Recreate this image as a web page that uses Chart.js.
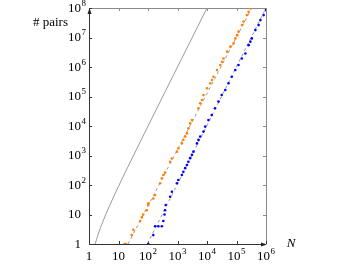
<!DOCTYPE html>
<html><head><meta charset="utf-8">
<script src="https://cdn.jsdelivr.net/npm/chart.js@4"></script>
<style>html,body{margin:0;padding:0;background:#fff}#wrap{width:355px;height:264px}</style>
</head><body><div id="wrap"><canvas id="c" width="355" height="264"></canvas></div>
<script>
const xTickValues = [1, 10, 100, 1e3, 1e4, 1e5, 1e6];
const xTickLabels = ['1', '10', '10^2', '10^3', '10^4', '10^5', '10^6'];
const yTickValues = [1, 10, 100, 1e3, 1e4, 1e5, 1e6, 1e7, 1e8];
const yTickLabels = ['1', '10', '10^2', '10^3', '10^4', '10^5', '10^6', '10^7', '10^8'];
const xTitle = 'N';
const yTitle = '# pairs';

// thin gray curve (all pairs)
const allN = [1.62, 2, 3, 5, 10, 20, 50, 100, 300, 1000, 3000, 10000];
const allPairs = [1, 2, 6, 20, 90, 380, 2450, 9900, 89700, 999000, 9e6, 1e8];

// orange series
const orangeN = [16, 18, 28, 32, 54, 62, 69, 91, 102, 104, 151, 174, 257, 295, 331, 380, 562, 646, 955, 1070,
  1410, 1585, 1820, 2090, 2340, 2690, 3090, 5130, 5890, 6760, 7590, 10000, 12900, 14800, 16600, 21900,
  28200, 32400, 36300, 47900, 61700, 79400, 91200, 105000, 117000, 155000, 174000, 224000, 257000, 295000];
const orangePairs = [1, 1, 2, 3, 6, 8, 10, 14, 21, 24, 35, 46, 115, 170, 219, 263, 617, 794, 1350, 1740,
  2570, 3390, 4365, 5620, 8320, 12300, 15850, 39800, 58900, 75900, 112000, 190500, 282000, 363000, 468000, 794000,
  1175000, 1514000, 1950000, 3310000, 4900000, 6310000, 9330000, 12000000, 15800000, 26300000, 34700000, 57500000, 74100000, 97700000];

// blue series
const blueN = [103, 151, 174, 224, 295, 331, 363, 380, 398, 562, 646, 955, 1070, 1410, 1585, 1820, 2090, 2340,
  2690, 3090, 3470, 4570, 5130, 5890, 7590, 8710, 11200, 14500, 18600, 24500, 31600, 41700, 53700, 69200,
  91200, 117000, 151000, 200000, 257000, 295000, 331000, 437000, 562000, 646000, 832000, 1000000];
const bluePairs = [1, 2, 4, 4, 4, 6, 10, 14, 21, 40, 59, 115, 148, 219, 282, 372, 479, 617,
  813, 1050, 1350, 2570, 3390, 4365, 6460, 9550, 15850, 23400, 39800, 67600, 112000, 166000, 282000, 468000,
  794000, 1175000, 1950000, 2880000, 5500000, 7240000, 9330000, 17800000, 26300000, 38900000, 57500000, 85000000];

// dashed guide lines (endpoints)
const orangeFitN = [21, 330000];
const orangeFitPairs = [1, 1e8];
const blueFitN = [95, 1000000];
const blueFitPairs = [1, 1e8];

const pts = (xs, ys) => xs.map((x, i) => ({x: x, y: ys[i]}));
const FONT = '"Liberation Serif", "Times New Roman", serif';

function drawPow(ctx, text, x, y, align) {
  const parts = text.split('^');
  ctx.font = '13px ' + FONT;
  const wb = ctx.measureText(parts[0]).width;
  let we = 0;
  if (parts[1]) { ctx.font = '9px ' + FONT; we = ctx.measureText(parts[1]).width + 0.5; }
  let start;
  if (align === 'center') start = x - (wb + we) / 2;
  else start = x - wb;
  ctx.textAlign = 'left';
  ctx.textBaseline = 'middle';
  ctx.fillStyle = '#000';
  ctx.font = '13px ' + FONT;
  ctx.fillText(parts[0], start, y);
  if (parts[1]) {
    ctx.font = '9px ' + FONT;
    ctx.fillText(parts[1], start + wb + 0.5, y - 5);
  }
}

const framePlugin = {
  id: 'frame',
  beforeDatasetsDraw(chart) {
    const ctx = chart.ctx, xs = chart.scales.x, ys = chart.scales.y;
    const L = xs.getPixelForValue(1), R = xs.getPixelForValue(1e6);
    const B = ys.getPixelForValue(1), T = ys.getPixelForValue(1e8);
    ctx.save();
    ctx.lineWidth = 1;
    ctx.strokeStyle = '#8a8a8a';
    ctx.beginPath();
    ctx.moveTo(L, T + 0.5); ctx.lineTo(R, T + 0.5);
    ctx.moveTo(R + 0.5, T); ctx.lineTo(R + 0.5, B);
    xTickValues.forEach(v => { const px = Math.round(xs.getPixelForValue(v)) + 0.5; ctx.moveTo(px, T); ctx.lineTo(px, T + 3); });
    yTickValues.forEach(v => { const py = Math.round(ys.getPixelForValue(v)) + 0.5; ctx.moveTo(R, py); ctx.lineTo(R - 3, py); });
    ctx.stroke();
    ctx.strokeStyle = '#333';
    ctx.beginPath();
    ctx.moveTo(L + 0.5, B); ctx.lineTo(L + 0.5, T + 2);
    ctx.moveTo(L, B + 0.5); ctx.lineTo(R - 2, B + 0.5);
    xTickValues.forEach(v => { const px = Math.round(xs.getPixelForValue(v)) + 0.5; ctx.moveTo(px, B); ctx.lineTo(px, B - 3); });
    yTickValues.forEach(v => { const py = Math.round(ys.getPixelForValue(v)) + 0.5; ctx.moveTo(L, py); ctx.lineTo(L + 3, py); });
    ctx.stroke();
    ctx.fillStyle = '#222';
    ctx.beginPath();
    ctx.moveTo(L + 0.5, T); ctx.lineTo(L - 1.5, T + 6); ctx.lineTo(L + 2.5, T + 6); ctx.closePath(); ctx.fill();
    ctx.beginPath();
    ctx.moveTo(R + 1, B + 0.5); ctx.lineTo(R - 5, B - 1.5); ctx.lineTo(R - 5, B + 2.5); ctx.closePath(); ctx.fill();
    ctx.restore();
  },
  afterDraw(chart) {
    const ctx = chart.ctx, xs = chart.scales.x, ys = chart.scales.y;
    ctx.save();
    xTickValues.forEach((v, i) => drawPow(ctx, xTickLabels[i], xs.getPixelForValue(v), 257, 'center'));
    yTickValues.forEach((v, i) => drawPow(ctx, yTickLabels[i], 81, ys.getPixelForValue(v) + 0.5, 'right'));
    ctx.fillStyle = '#000';
    ctx.font = '13px ' + FONT;
    ctx.textAlign = 'right';
    ctx.textBaseline = 'middle';
    ctx.fillText(yTitle, 68, 23);
    ctx.font = 'italic 13px ' + FONT;
    ctx.textAlign = 'center';
    ctx.fillText(xTitle, 291, 244);
    ctx.restore();
  }
};

new Chart(document.getElementById('c'), {
  type: 'scatter',
  data: {
    datasets: [
      {data: pts(orangeN, orangePairs), backgroundColor: '#ff8000', pointRadius: 1.3, pointBorderWidth: 0, showLine: false, order: 0},
      {data: pts(blueN, bluePairs), backgroundColor: '#0000ff', pointRadius: 1.3, pointBorderWidth: 0, showLine: false, order: 0},
      {data: pts(orangeFitN, orangeFitPairs), borderColor: '#999999', borderWidth: 1, borderDash: [3, 3], showLine: true, pointRadius: 0, order: 1},
      {data: pts(blueFitN, blueFitPairs), borderColor: '#999999', borderWidth: 1, borderDash: [3, 3], showLine: true, pointRadius: 0, order: 1},
      {data: pts(allN, allPairs), borderColor: '#9a9a9a', borderWidth: 1, showLine: true, pointRadius: 0, tension: 0.4, cubicInterpolationMode: 'monotone', order: 1}
    ]
  },
  options: {
    responsive: false,
    animation: false,
    layout: {padding: {left: 89, right: 89, top: 8, bottom: 20}},
    plugins: {legend: {display: false}, tooltip: {enabled: false}},
    scales: {
      x: {type: 'logarithmic', min: 1, max: 1e6, display: false},
      y: {type: 'logarithmic', min: 1, max: 1e8, display: false}
    }
  },
  plugins: [framePlugin]
});
</script>
</body></html>
